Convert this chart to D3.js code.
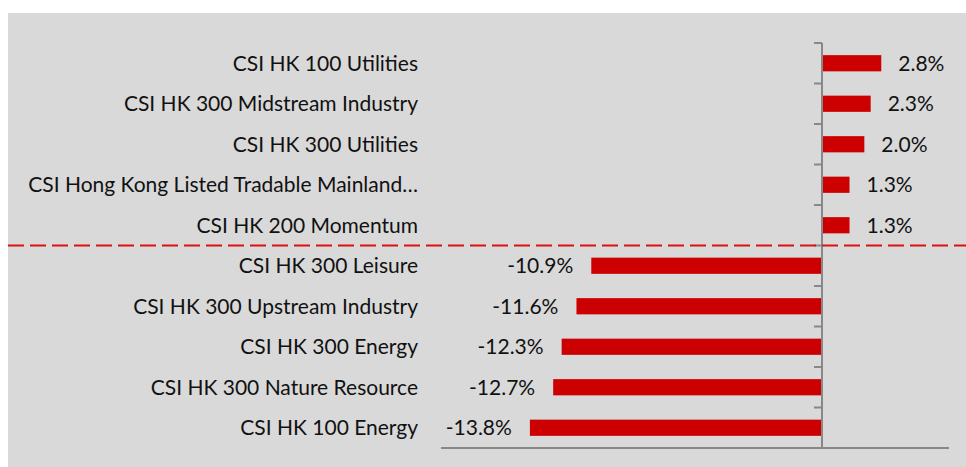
<!DOCTYPE html>
<html><head><meta charset="utf-8">
<script src="https://cdn.jsdelivr.net/npm/d3@7"></script>
<style>body{margin:0;background:#fff}</style>
</head><body>
<svg id="c" width="966" height="467"></svg>
<script>
const categories = ["CSI HK 100 Utilities","CSI HK 300 Midstream Industry","CSI HK 300 Utilities","CSI Hong Kong Listed Tradable Mainland…","CSI HK 200 Momentum","CSI HK 300 Leisure","CSI HK 300 Upstream Industry","CSI HK 300 Energy","CSI HK 300 Nature Resource","CSI HK 100 Energy"];
const values = [2.8,2.3,2.0,1.3,1.3,-10.9,-11.6,-12.3,-12.7,-13.8];
const xDomain = [-18, 6];

const svg = d3.select("#c");
const font = "Lato, sans-serif";
svg.append("rect").attr("x",8).attr("y",13).attr("width",958).attr("height",454).attr("fill","#d9d9d9");

const x = d3.scaleLinear().domain(xDomain).range([441, 949]);
const y = d3.scaleBand().domain(categories).range([43, 448]).paddingInner(0.6).paddingOuter(0.3);

svg.selectAll("rect.bar").data(values).enter().append("rect")
  .attr("class","bar")
  .attr("x", d => x(Math.min(0,d)))
  .attr("width", d => Math.abs(x(d)-x(0)))
  .attr("y", (d,i) => y(categories[i]))
  .attr("height", y.bandwidth())
  .attr("fill", "#cc0000");

svg.append("line").attr("x1",x.range()[0]).attr("x2",x.range()[1]).attr("y1",448).attr("y2",448)
  .attr("stroke","#888").attr("stroke-width",2);
svg.append("line").attr("x1",x(0)).attr("x2",x(0)).attr("y1",43).attr("y2",448)
  .attr("stroke","#888").attr("stroke-width",2);
const bounds = d3.range(categories.length).map(i => 43 + i*(405/categories.length));
svg.selectAll("line.tk").data(bounds).enter().append("line")
  .attr("x1", x(0)-8).attr("x2", x(0)).attr("y1", d=>d).attr("y2", d=>d)
  .attr("stroke","#888").attr("stroke-width",2);

const sepY = 43 + 5*(405/categories.length);
svg.append("line").attr("x1",8).attr("x2",966).attr("y1",sepY).attr("y2",sepY)
  .attr("stroke","#dd1111").attr("stroke-width",2).attr("stroke-dasharray","16,6");

svg.selectAll("text.cat").data(categories).enter().append("text")
  .attr("x", 418).attr("y", d => y(d)+y.bandwidth()/2)
  .attr("dy","0.35em").attr("text-anchor","end")
  .attr("font-family",font).attr("font-size",21).attr("fill","#111")
  .text(d=>d);

svg.selectAll("text.val").data(values).enter().append("text")
  .attr("x", d => d>=0 ? x(d)+17 : x(d)-18)
  .attr("y", (d,i) => y(categories[i])+y.bandwidth()/2)
  .attr("dy","0.35em").attr("text-anchor", d => d>=0 ? "start":"end")
  .attr("font-family",font).attr("font-size",21).attr("fill","#111")
  .text(d => d.toFixed(1)+"%");
</script>
</body></html>
